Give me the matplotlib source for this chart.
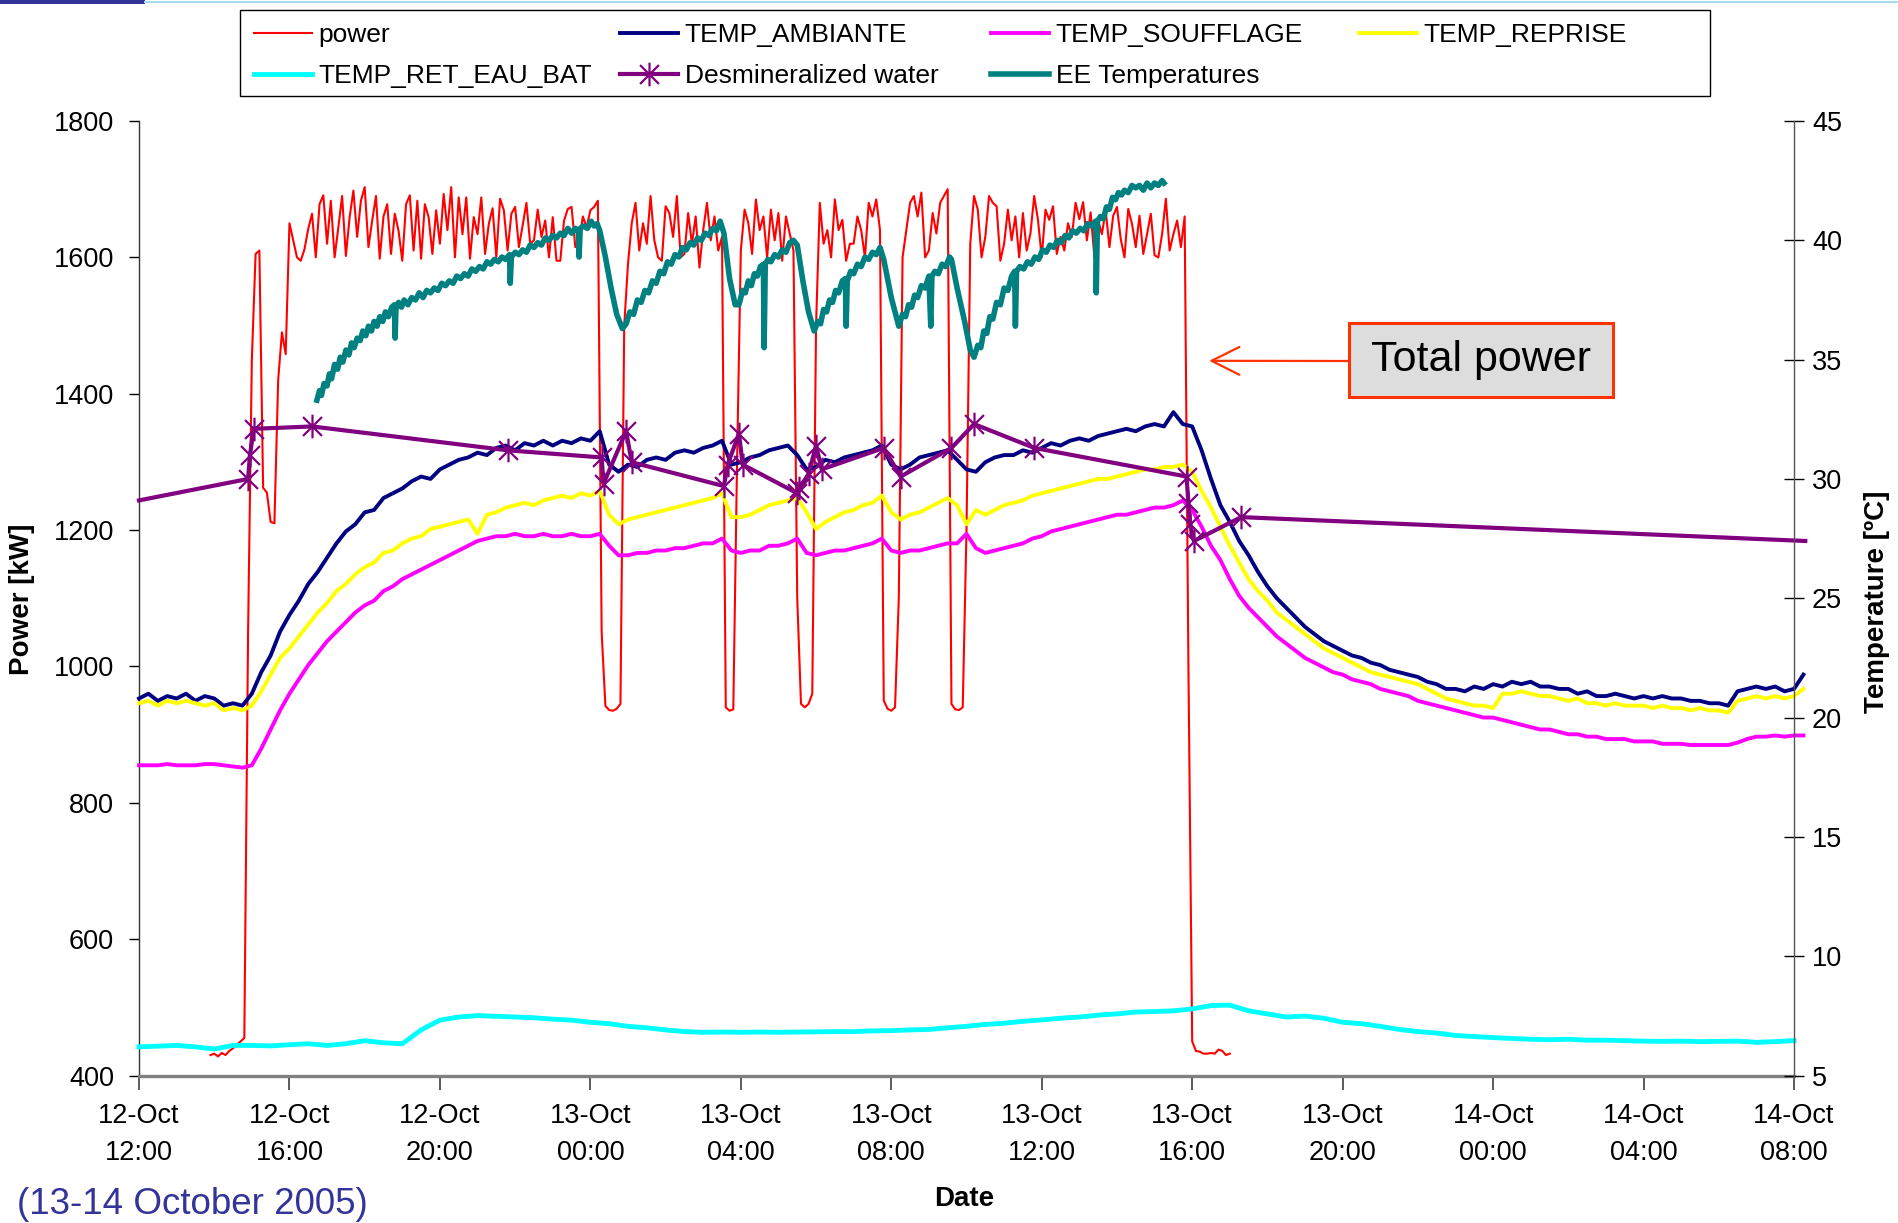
import numpy as np
import matplotlib
matplotlib.use("Agg")
import matplotlib.pyplot as plt
from matplotlib.path import Path
from matplotlib.lines import Line2D
from matplotlib.patches import Rectangle

plt.rcParams['font.family'] = ['Liberation Sans', 'DejaVu Sans']

# ---------------- data (time in hours since 12-Oct 12:00) ----------------
x_tick_labels = ["12-Oct\n12:00", "12-Oct\n16:00", "12-Oct\n20:00", "13-Oct\n00:00",
                 "13-Oct\n04:00", "13-Oct\n08:00", "13-Oct\n12:00", "13-Oct\n16:00",
                 "13-Oct\n20:00", "14-Oct\n00:00", "14-Oct\n04:00", "14-Oct\n08:00"]

# power [kW], sampled every 0.1 h from t = 1.9 h
power_start = 1.9
power_step = 0.1
power_kw = [
    430,
    432, 428, 433, 430, 436, 440, 445, 450, 455, 1050,
    1450, 1605, 1610, 1262, 1255, 1212, 1210, 1420, 1490, 1458,
    1650, 1625, 1600, 1595, 1612, 1642, 1664, 1600, 1678, 1691,
    1620, 1683, 1600, 1644, 1690, 1602, 1659, 1698, 1630, 1683,
    1703, 1615, 1654, 1690, 1598, 1660, 1678, 1605, 1664, 1639,
    1595, 1678, 1691, 1610, 1683, 1598, 1678, 1659, 1605, 1669,
    1620, 1693, 1640, 1703, 1600, 1688, 1634, 1688, 1598, 1659,
    1634, 1688, 1605, 1649, 1672, 1600, 1686, 1669, 1610, 1664,
    1674, 1615, 1647, 1680, 1620, 1625, 1670, 1630, 1654, 1600,
    1659, 1595, 1595, 1654, 1671, 1674, 1615, 1622, 1660, 1644,
    1669, 1674, 1683, 1050, 942, 936, 935, 938, 945, 1500,
    1590, 1650, 1680, 1610, 1650, 1620, 1690, 1625, 1600, 1595,
    1675, 1665, 1630, 1690, 1600, 1605, 1665, 1620, 1660, 1585,
    1640, 1680, 1625, 1660, 1610, 1630, 940, 935, 937, 1300,
    1610, 1670, 1650, 1605, 1685, 1640, 1660, 1600, 1670, 1625,
    1665, 1595, 1660, 1635, 1610, 1100, 945, 940, 945, 960,
    1500, 1680, 1620, 1640, 1600, 1685, 1640, 1655, 1595, 1620,
    1620, 1660, 1640, 1600, 1680, 1660, 1685, 1640, 950, 938,
    935, 940, 1100, 1600, 1640, 1680, 1690, 1660, 1695, 1600,
    1610, 1665, 1635, 1680, 1690, 1700, 945, 937, 936, 940,
    1200, 1620, 1690, 1670, 1600, 1630, 1690, 1680, 1675, 1595,
    1620, 1670, 1625, 1660, 1600, 1665, 1610, 1635, 1690, 1655,
    1600, 1670, 1655, 1675, 1605, 1630, 1610, 1650, 1630, 1680,
    1656, 1681, 1625, 1666, 1600, 1654, 1634, 1669, 1615, 1661,
    1674, 1627, 1600, 1671, 1649, 1615, 1661, 1605, 1634, 1664,
    1603, 1600, 1634, 1686, 1610, 1634, 1654, 1615, 1660, 1000,
    450, 436, 435, 432, 432, 433, 432, 438, 436, 430,
    432,
]

# temperatures [degC], sampled every 0.25 h from t = 0
temp_step = 0.25
temp_ambiante = [
    20.8, 21.0, 20.7, 20.9, 20.8, 21.0, 20.7, 20.9,
    20.8, 20.5, 20.6, 20.5, 21.0, 21.9, 22.6, 23.6,
    24.3, 24.9, 25.6, 26.1, 26.7, 27.3, 27.8, 28.1,
    28.6, 28.7, 29.2, 29.4, 29.6, 29.9, 30.1, 30.0,
    30.4, 30.6, 30.8, 30.9, 31.1, 31.0, 31.3, 31.4,
    31.2, 31.5, 31.4, 31.6, 31.4, 31.6, 31.5, 31.7,
    31.6, 32.0, 30.6, 30.3, 30.6, 30.5, 30.8, 30.9,
    30.8, 31.1, 31.2, 31.1, 31.3, 31.4, 31.6, 30.6,
    30.7, 30.9, 31.0, 31.2, 31.3, 31.4, 31.0, 30.4,
    30.5, 30.8, 30.7, 30.9, 31.0, 31.1, 31.2, 31.4,
    30.6, 30.4, 30.6, 30.9, 31.0, 31.1, 31.2, 30.8,
    30.4, 30.3, 30.7, 30.9, 31.0, 31.0, 31.2, 31.1,
    31.3, 31.5, 31.4, 31.6, 31.7, 31.6, 31.8, 31.9,
    32.0, 32.1, 32.0, 32.2, 32.3, 32.2, 32.8, 32.3,
    32.2, 31.2, 30.0, 28.9, 28.2, 27.4, 26.8, 26.1,
    25.5, 25.0, 24.6, 24.2, 23.8, 23.5, 23.2, 23.0,
    22.8, 22.6, 22.5, 22.3, 22.2, 22.0, 21.9, 21.8,
    21.7, 21.5, 21.4, 21.2, 21.2, 21.1, 21.3, 21.2,
    21.4, 21.3, 21.5, 21.4, 21.5, 21.3, 21.3, 21.2,
    21.2, 21.0, 21.1, 20.9, 20.9, 21.0, 20.9, 20.8,
    20.9, 20.8, 20.9, 20.8, 20.8, 20.7, 20.7, 20.6,
    20.6, 20.5, 21.1, 21.2, 21.3, 21.2, 21.3, 21.1,
    21.2, 21.8,
]
temp_soufflage = [
    18.0, 18.0, 18.0, 18.05, 18.0, 18.0, 18.0, 18.05,
    18.05, 18.0, 17.95, 17.9, 18.0, 18.7, 19.5, 20.3,
    21.0, 21.6, 22.2, 22.7, 23.2, 23.6, 24.0, 24.4,
    24.7, 24.9, 25.3, 25.5, 25.8, 26.0, 26.2, 26.4,
    26.6, 26.8, 27.0, 27.2, 27.4, 27.5, 27.6, 27.6,
    27.7, 27.6, 27.6, 27.7, 27.6, 27.6, 27.7, 27.6,
    27.6, 27.7, 27.2, 26.8, 26.8, 26.9, 26.9, 27.0,
    27.0, 27.1, 27.1, 27.2, 27.3, 27.3, 27.5, 27.0,
    26.9, 27.0, 27.0, 27.2, 27.2, 27.3, 27.5, 26.9,
    26.8, 26.9, 27.0, 27.0, 27.1, 27.2, 27.3, 27.5,
    27.0, 26.9, 27.0, 27.0, 27.1, 27.2, 27.3, 27.3,
    27.7, 27.1, 26.9, 27.0, 27.1, 27.2, 27.3, 27.5,
    27.6, 27.8, 27.9, 28.0, 28.1, 28.2, 28.3, 28.4,
    28.5, 28.5, 28.6, 28.7, 28.8, 28.8, 28.9, 29.1,
    28.7, 28.0, 27.2, 26.6, 25.8, 25.1, 24.6, 24.2,
    23.8, 23.4, 23.1, 22.8, 22.5, 22.3, 22.1, 21.9,
    21.8, 21.6, 21.5, 21.4, 21.2, 21.1, 21.0, 20.9,
    20.7, 20.6, 20.5, 20.4, 20.3, 20.2, 20.1, 20.0,
    20.0, 19.9, 19.8, 19.7, 19.6, 19.5, 19.5, 19.4,
    19.3, 19.3, 19.2, 19.2, 19.1, 19.1, 19.1, 19.0,
    19.0, 19.0, 18.9, 18.9, 18.9, 18.85, 18.85, 18.85,
    18.85, 18.85, 18.95, 19.1, 19.2, 19.2, 19.25, 19.2,
    19.25, 19.25,
]
temp_reprise = [
    20.6, 20.7, 20.5, 20.7, 20.6, 20.7, 20.6, 20.5,
    20.6, 20.3, 20.4, 20.3, 20.5, 21.1, 21.8, 22.5,
    22.9, 23.4, 23.9, 24.4, 24.8, 25.3, 25.6, 26.0,
    26.3, 26.5, 26.9, 27.0, 27.3, 27.5, 27.6, 27.9,
    28.0, 28.1, 28.2, 28.3, 27.7, 28.5, 28.6, 28.8,
    28.9, 29.0, 28.9, 29.1, 29.2, 29.3, 29.2, 29.4,
    29.3, 29.5, 28.5, 28.1, 28.3, 28.4, 28.5, 28.6,
    28.7, 28.8, 28.9, 29.0, 29.1, 29.2, 29.4, 28.4,
    28.4, 28.5, 28.7, 28.9, 29.0, 29.1, 29.2, 28.6,
    27.9, 28.2, 28.4, 28.6, 28.7, 28.9, 29.0, 29.3,
    28.6, 28.3, 28.5, 28.6, 28.8, 29.0, 29.2, 28.9,
    28.1, 28.7, 28.5, 28.7, 28.9, 29.0, 29.1, 29.3,
    29.4, 29.5, 29.6, 29.7, 29.8, 29.9, 30.0, 30.0,
    30.1, 30.2, 30.3, 30.4, 30.4, 30.5, 30.5, 30.6,
    30.3, 29.5, 28.8, 28.0, 27.2, 26.5, 25.8, 25.3,
    24.9, 24.4, 24.1, 23.8, 23.5, 23.2, 22.9, 22.7,
    22.5, 22.3, 22.1, 21.9, 21.8, 21.7, 21.6, 21.5,
    21.4, 21.2, 21.0, 20.8, 20.7, 20.6, 20.5, 20.5,
    20.4, 21.0, 21.0, 21.1, 21.0, 20.9, 20.9, 20.8,
    20.7, 20.8, 20.6, 20.6, 20.5, 20.6, 20.5, 20.5,
    20.5, 20.4, 20.5, 20.4, 20.4, 20.3, 20.4, 20.3,
    20.3, 20.2, 20.7, 20.8, 20.9, 20.8, 20.9, 20.8,
    20.9, 21.2,
]

# TEMP_RET_EAU_BAT, sampled every 0.5 h from t = 0
ret_eau_step = 0.5
temp_ret_eau_bat = [
    6.20, 6.23, 6.26, 6.20, 6.11, 6.26, 6.26, 6.24, 6.29, 6.33,
    6.26, 6.33, 6.46, 6.37, 6.33, 6.91, 7.32, 7.45, 7.51, 7.48,
    7.45, 7.42, 7.36, 7.32, 7.23, 7.17, 7.06, 7.00, 6.91, 6.84,
    6.81, 6.82, 6.81, 6.82, 6.81, 6.82, 6.83, 6.84, 6.84, 6.87,
    6.88, 6.91, 6.93, 7.00, 7.06, 7.14, 7.19, 7.27, 7.33, 7.40,
    7.45, 7.53, 7.58, 7.66, 7.68, 7.71, 7.79, 7.93, 7.95, 7.71,
    7.58, 7.45, 7.49, 7.40, 7.23, 7.17, 7.06, 6.93, 6.84, 6.78,
    6.68, 6.63, 6.59, 6.55, 6.52, 6.50, 6.52, 6.48, 6.48, 6.46,
    6.44, 6.43, 6.44, 6.42, 6.43, 6.44, 6.39, 6.42, 6.46,
]

# Desmineralized water (time [h], temperature)
desmin_time = [0.0, 2.9, 2.95, 3.05, 4.6, 9.8, 12.3, 12.35, 12.95, 13.1,
               15.55, 15.65, 15.95, 16.05, 17.5, 17.55, 17.8, 18.0, 18.15,
               19.8, 20.25, 21.6, 22.2, 23.8, 27.85, 27.9, 27.95, 28.05,
               29.3, 44.3]
desmin_temp = [29.1, 30.0, 31.0, 32.1, 32.2, 31.2, 30.9, 29.8, 32.0, 30.7,
               29.7, 30.6, 31.9, 30.6, 29.4, 29.6, 30.2, 31.4, 30.4,
               31.3, 30.1, 31.3, 32.3, 31.3, 30.1, 29.0, 28.1, 27.4,
               28.4, 27.4]

# EE Temperatures (time [h], temperature)
ee_time = [
    4.73, 4.80, 4.85, 4.92, 5.00, 5.06, 5.12, 5.20, 5.28, 5.35, 5.42, 5.50,
    5.58, 5.65, 5.72, 5.80, 5.88, 5.95, 6.03, 6.10, 6.18, 6.25, 6.33, 6.40,
    6.48, 6.55, 6.63, 6.72, 6.79, 6.81, 6.83, 6.90, 6.98, 7.05, 7.15, 7.25,
    7.35, 7.45, 7.55, 7.65, 7.75, 7.85, 7.95, 8.05, 8.15, 8.25, 8.35, 8.45,
    8.55, 8.65, 8.75, 8.85, 8.95, 9.05, 9.15, 9.25, 9.35, 9.45, 9.55, 9.65,
    9.75, 9.85, 9.87, 9.90, 10.00, 10.10, 10.20, 10.30, 10.40, 10.50, 10.60,
    10.70, 10.80, 10.90, 11.00, 11.10, 11.20, 11.30, 11.40, 11.50, 11.60,
    11.68, 11.70, 11.73, 11.82, 11.92, 12.02, 12.10, 12.18, 12.25,
    12.40, 12.55, 12.70, 12.85, 12.95,
    13.05, 13.15, 13.25, 13.35, 13.45, 13.55, 13.65, 13.75, 13.85, 13.95,
    14.05, 14.15, 14.25, 14.35, 14.45, 14.55, 14.65, 14.75, 14.85, 14.95,
    15.05, 15.15, 15.25, 15.35, 15.45, 15.55,
    15.70, 15.85, 15.95, 16.05, 16.12, 16.20, 16.28, 16.36, 16.44, 16.52,
    16.60, 16.62, 16.65, 16.72, 16.80, 16.90, 17.00, 17.10, 17.20, 17.30,
    17.40, 17.50,
    17.65, 17.80, 17.95, 18.05, 18.12, 18.20, 18.28, 18.36, 18.44, 18.52,
    18.60, 18.70, 18.78, 18.80, 18.83, 18.92, 19.00, 19.10, 19.20, 19.30,
    19.40, 19.50, 19.60, 19.70, 19.80,
    20.00, 20.20, 20.30, 20.38, 20.46, 20.54, 20.62, 20.70, 20.80, 20.90,
    21.00, 21.05, 21.08, 21.16, 21.25, 21.35, 21.45, 21.55, 21.60,
    21.75, 21.95, 22.10, 22.20, 22.30, 22.38, 22.46, 22.54, 22.62, 22.70,
    22.80, 22.90, 23.00, 23.10, 23.20, 23.28, 23.30, 23.33, 23.42, 23.52,
    23.62, 23.72, 23.82, 23.92, 24.02, 24.12, 24.22, 24.32, 24.42, 24.52,
    24.62, 24.72, 24.82, 24.92, 25.02, 25.12, 25.22, 25.32, 25.43, 25.45,
    25.48, 25.56, 25.64, 25.72, 25.80, 25.88, 25.96, 26.04, 26.12, 26.20,
    26.30, 26.40, 26.50, 26.60, 26.70, 26.80, 26.90, 27.00, 27.10, 27.20,
    27.25,
]
ee_temp = [
    33.3, 33.7, 33.5, 34.0, 33.9, 34.4, 34.2, 34.8, 34.6, 35.1, 34.9, 35.4,
    35.2, 35.7, 35.5, 35.9, 35.8, 36.2, 36.0, 36.4, 36.2, 36.6, 36.4, 36.8,
    36.6, 37.0, 36.8, 37.2, 37.3, 35.9, 37.1, 37.4, 37.2, 37.5, 37.3, 37.6,
    37.5, 37.8, 37.6, 37.9, 37.8, 38.0, 37.9, 38.2, 38.1, 38.3, 38.2, 38.5,
    38.4, 38.6, 38.5, 38.8, 38.7, 38.9, 38.8, 39.1, 39.0, 39.2, 39.1, 39.3,
    39.2, 39.4, 38.2, 39.3, 39.5, 39.4, 39.6, 39.5, 39.8, 39.7, 39.9,
    39.8, 40.1, 40.0, 40.2, 40.1, 40.3, 40.2, 40.5, 40.3, 40.5,
    40.4, 39.3, 40.5, 40.6, 40.5, 40.8, 40.6, 40.7, 40.4,
    39.3, 38.0, 36.9, 36.3, 36.5,
    37.0, 36.9, 37.5, 37.4, 37.9, 37.8, 38.3, 38.2, 38.7, 38.6,
    39.1, 39.0, 39.4, 39.3, 39.7, 39.6, 39.9, 39.8, 40.1, 40.0,
    40.3, 40.2, 40.5, 40.4, 40.8, 40.3,
    38.4, 37.3, 37.3, 37.9, 37.8, 38.3, 38.1, 38.6, 38.5, 38.9,
    39.0, 35.5, 39.0, 39.2, 39.1, 39.4, 39.3, 39.6, 39.5, 39.9,
    40.0, 39.8,
    38.3, 37.0, 36.2, 36.6, 36.5, 37.1, 37.0, 37.5, 37.4, 37.9,
    37.8, 38.3, 38.4, 36.4, 38.3, 38.7, 38.6, 39.0, 38.9, 39.3,
    39.2, 39.5, 39.4, 39.7, 39.2,
    37.6, 36.4, 36.9, 36.8, 37.3, 37.2, 37.7, 37.6, 38.1, 38.0,
    38.5, 36.4, 38.5, 38.7, 38.6, 39.0, 38.9, 39.3, 39.2,
    38.0, 36.6, 35.4, 35.1, 35.6, 35.5, 36.2, 36.1, 36.8, 36.7,
    37.4, 37.3, 38.0, 37.9, 38.5, 38.7, 36.4, 38.7, 38.9, 38.8,
    39.1, 39.0, 39.3, 39.2, 39.6, 39.5, 39.8, 39.7, 40.0, 39.9,
    40.2, 40.1, 40.4, 40.3, 40.5, 40.4, 40.7, 40.6, 40.8, 37.8,
    40.8, 41.0, 40.9, 41.4, 41.3, 41.8, 41.7, 42.0, 41.9, 42.1,
    42.0, 42.3, 42.2, 42.3, 42.1, 42.4, 42.2, 42.4, 42.3, 42.5,
    42.4,
]

# ---------------- figure ----------------
W, H = 1899, 1223
fig = plt.figure(figsize=(W / 100, H / 100), dpi=100)
fig.patch.set_facecolor('white')

ax_l, ax_r, ax_t, ax_b = 139, 1794, 121, 1075.5
ax = fig.add_axes([ax_l / W, 1 - ax_b / H, (ax_r - ax_l) / W, (ax_b - ax_t) / H])
ax2 = ax.twinx()

t_power = power_start + power_step * np.arange(len(power_kw))
t_temp = temp_step * np.arange(len(temp_ambiante))
t_ret = ret_eau_step * np.arange(len(temp_ret_eau_bat))

RED, NAVY, MAG, YEL, CYAN, PURP, TEAL = ('#FF0000', '#000080', '#FF00FF', '#FFFF00',
                                         '#00FFFF', '#800080', '#008080')

l_power, = ax.plot(t_power, power_kw, color=RED, lw=1.5, label='power')

l_amb, = ax2.plot(t_temp, temp_ambiante, color=NAVY, lw=2.8, label='TEMP_AMBIANTE', clip_on=False)
l_souf, = ax2.plot(t_temp, temp_soufflage, color=MAG, lw=2.8, label='TEMP_SOUFFLAGE', clip_on=False)
l_rep, = ax2.plot(t_temp, temp_reprise, color=YEL, lw=2.8, label='TEMP_REPRISE', clip_on=False)
l_ret, = ax2.plot(t_ret, temp_ret_eau_bat, color=CYAN, lw=3.5, label='TEMP_RET_EAU_BAT', clip_on=False)

star = Path([(-1, -1), (1, 1), (-1, 1), (1, -1), (0, -1.25), (0, 1.25)],
            [Path.MOVETO, Path.LINETO, Path.MOVETO, Path.LINETO, Path.MOVETO, Path.LINETO])
l_des, = ax2.plot(desmin_time, desmin_temp, color=PURP, lw=3.0, marker=star,
                  markersize=17, markeredgewidth=1.6, markeredgecolor=PURP,
                  markevery=list(range(1, len(desmin_time) - 1)),
                  label='Desmineralized water', clip_on=False)
l_ee, = ax2.plot(ee_time, ee_temp, color=TEAL, lw=4.0, label='EE Temperatures')

# axes limits & ticks
ax.set_xlim(0, 44)
ax.set_ylim(400, 1800)
ax2.set_ylim(5, 45)
ax.set_xticks(np.arange(0, 45, 4))
ax.set_xticklabels(x_tick_labels, fontsize=19.5, linespacing=1.55)
ax.set_yticks(np.arange(400, 1801, 200))
ax.tick_params(axis='y', labelsize=19.5, direction='out', length=7, width=1, pad=11)
ax.tick_params(axis='x', direction='out', length=10, width=1.2, color='#404040', pad=10)
ax2.set_yticks(np.arange(5, 46, 5))
ax2.tick_params(axis='y', labelsize=19.5, direction='inout', length=14, width=1, pad=6)

ax.spines['top'].set_visible(False)
ax2.spines['top'].set_visible(False)
ax.spines['right'].set_visible(False)
ax2.spines['left'].set_visible(False)
ax2.spines['bottom'].set_visible(False)
ax.spines['bottom'].set_color('#808080')
ax.spines['bottom'].set_linewidth(2.4)
ax.spines['left'].set_color('#333333')
ax.spines['left'].set_linewidth(1.0)
ax2.spines['right'].set_color('#555555')
ax2.spines['right'].set_linewidth(1.0)
ax.set_facecolor('none')
ax2.set_facecolor('none')

# axis titles
fig.text(22 / W, 1 - 599 / H, 'Power [kW]', rotation=90, ha='center', va='center',
         fontsize=20, fontweight='bold')
fig.text(1877 / W, 1 - 602 / H, 'Temperature [ºC]', rotation=90, ha='center', va='center',
         fontsize=20, fontweight='bold')
fig.text(964 / W, 1 - 1199 / H, 'Date', ha='center', va='center', fontsize=20, fontweight='bold')

# legend: one frame, four evenly placed columns
fig.add_artist(Rectangle((240 / W, 1 - 96 / H), 1470 / W, 86 / H, transform=fig.transFigure,
                         facecolor='white', edgecolor='black', lw=1.0, zorder=5))
des_proxy = Line2D([], [], color=PURP, lw=3.0, marker=star, markersize=17,
                   markeredgewidth=1.6, markeredgecolor=PURP)
columns = [
    (254, [(l_power, 'power'), (l_ret, 'TEMP_RET_EAU_BAT')]),
    (620, [(l_amb, 'TEMP_AMBIANTE'), (des_proxy, 'Desmineralized water')]),
    (991, [(l_souf, 'TEMP_SOUFFLAGE'), (l_ee, 'EE Temperatures')]),
    (1359, [(l_rep, 'TEMP_REPRISE')]),
]
for cx, items in columns:
    lg = fig.legend(handles=[h for h, _ in items], labels=[s for _, s in items],
                    loc='upper left', bbox_to_anchor=(cx / W, 1 - 23 / H),
                    fontsize=19, frameon=False, handlelength=2.2, handletextpad=0.25,
                    labelspacing=0.66, borderpad=0, borderaxespad=0, numpoints=1)
    lg.set_zorder(6)

# annotation box "Total power"
bx0, by0, bx1, by1 = 1349, 323, 1613, 397
fig.add_artist(Rectangle((bx0 / W, 1 - by1 / H), (bx1 - bx0) / W, (by1 - by0) / H,
                         transform=fig.transFigure, facecolor='#DDDDDD',
                         edgecolor='#FF3300', lw=2.2))
fig.text((bx0 + bx1) / 2 / W, 1 - (by0 + by1) / 2 / H, 'Total power', ha='center',
         va='center', fontsize=31)
ax2.annotate('', xy=(28.45, 34.95), xycoords='data',
             xytext=(bx0 / W, 1 - 361 / H), textcoords='figure fraction',
             arrowprops=dict(arrowstyle='->,head_length=1.0,head_width=0.5',
                             color='#FF3300', lw=1.6, shrinkA=0, shrinkB=0,
                             mutation_scale=20))

# footer / slide decorations
fig.text(17 / W, 1 - 1205 / H, '(13-14 October 2005)', ha='left', va='center',
         fontsize=26.5, color='#333399')
fig.add_artist(Rectangle((0, 1 - 4 / H), 145 / W, 4 / H, transform=fig.transFigure,
                         facecolor='#333399', edgecolor='none'))
fig.add_artist(Line2D([145 / W, 1], [1 - 2 / H, 1 - 2 / H], transform=fig.transFigure,
                      color='#A8DDEE', lw=1.5))

fig.savefig('out.png', dpi=100, facecolor='white')
